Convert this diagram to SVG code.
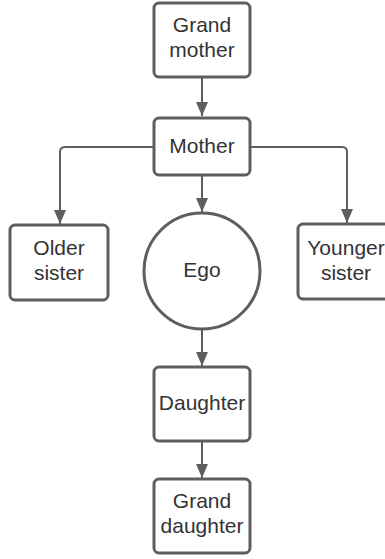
<svg xmlns="http://www.w3.org/2000/svg" width="385" height="559" viewBox="0 0 385 559">
<style>
.box{fill:#fff;stroke:#5e5e5e;stroke-width:3}
.t{font-family:"Liberation Sans",Arial,sans-serif;font-size:21px;fill:#333;text-anchor:middle}
.c{fill:none;stroke:#5e5e5e;stroke-width:2}
</style>
<defs>
<marker id="ah" viewBox="0 0 14 12" refX="14" refY="6" markerWidth="14" markerHeight="12" markerUnits="userSpaceOnUse" orient="auto">
<path d="M0,0 L14,6 L0,12 Z" fill="#5e5e5e"/>
</marker>
</defs>
<rect width="385" height="559" fill="#fff"/>
<g id="connectors">
<path class="c" d="M202,77 V116" marker-end="url(#ah)"/>
<path class="c" d="M154,147 H65 Q60,147 60,152 V224" marker-end="url(#ah)"/>
<path class="c" d="M250,147 H342 Q347,147 347,152 V223" marker-end="url(#ah)"/>
<path class="c" d="M202,175 V212" marker-end="url(#ah)"/>
<path class="c" d="M202,329 V366" marker-end="url(#ah)"/>
<path class="c" d="M202,441 V478" marker-end="url(#ah)"/>
</g>
<g id="grandmother">
<rect class="box" x="154" y="3" width="96" height="74" rx="5"/>
<text class="t" x="202" y="32">Grand</text>
<text class="t" x="202" y="57">mother</text>
</g>
<g id="mother">
<rect class="box" x="154" y="118" width="96" height="57" rx="5"/>
<text class="t" x="202" y="153">Mother</text>
</g>
<g id="older-sister">
<rect class="box" x="10" y="225" width="98" height="75" rx="5"/>
<text class="t" x="59" y="255">Older</text>
<text class="t" x="59" y="280">sister</text>
</g>
<g id="younger-sister">
<rect class="box" x="298" y="224" width="98" height="75" rx="5"/>
<text class="t" x="346" y="255">Younger</text>
<text class="t" x="346" y="280">sister</text>
</g>
<g id="ego">
<circle class="box" cx="202" cy="271" r="58"/>
<text class="t" x="202" y="277">Ego</text>
</g>
<g id="daughter">
<rect class="box" x="154" y="367" width="96" height="74" rx="5"/>
<text class="t" x="202" y="410">Daughter</text>
</g>
<g id="granddaughter">
<rect class="box" x="154" y="479" width="96" height="74" rx="5"/>
<text class="t" x="202" y="508">Grand</text>
<text class="t" x="202" y="533">daughter</text>
</g>
</svg>
